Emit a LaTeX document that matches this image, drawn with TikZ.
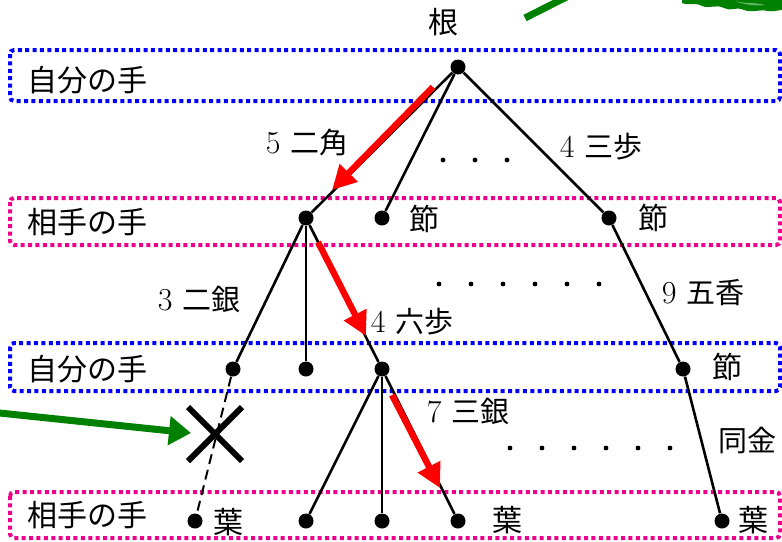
\documentclass[tikz,border=0pt]{standalone}
\usepackage{fontspec}
\newfontfamily\jp{Noto Sans CJK JP}
\usetikzlibrary{arrows.meta}

\definecolor{leaf}{RGB}{0,128,0}
\tikzset{
  node/.style={circle,fill,inner sep=0pt,minimum size=7.5pt},
  edge/.style={line width=1.3pt},
  box/.style={line width=2pt,dash pattern=on 2pt off 1.7pt,rounded corners=2pt},
  side/.style={font=\jp\fontsize{15}{15}\selectfont,anchor=west},
  tag/.style={font=\jp\fontsize{15}{15}\selectfont},
  move/.style={font=\fontsize{16}{16}\selectfont},
  path/.style={red,line width=3.2pt,-{Triangle[length=12pt,width=12pt]}},
  hint/.style={leaf,line width=3.5pt,-{Triangle[length=11pt,width=14pt]}},
}
\newcommand{\kj}[1]{{\jp\fontsize{14.5}{14.5}\selectfont #1}}

\begin{document}
\begin{tikzpicture}[x=0.5pt,y=-0.5pt]
  \useasboundingbox (0,0) rectangle (782,541);
  \clip (0,0) rectangle (782,541);

  % layers
  \draw[box,blue] (10,50) rectangle (780,101);
  \draw[box,magenta] (10,198) rectangle (780,245);
  \draw[box,blue] (10,343) rectangle (780,391);
  \draw[box,magenta] (10,492) rectangle (780,538);
  \node[side] (l1) at (20,80) {自分の手};
  \node[side] (l2) at (20,222) {相手の手};
  \node[side] (l3) at (20,369) {自分の手};
  \node[side] (l4) at (20,515) {相手の手};

  % tree
  \node[node] (r) at (458,67) {};
  \node[tag] (rt) at (443,22) {根};

  \node[node] (a) at (306,218) {};
  \node[node] (b) at (382,218) {};
  \node[node] (c) at (609,218) {};
  \node[tag] (bt) at (424,219) {節};
  \node[tag] (ct) at (653,218) {節};

  \node[node] (aa) at (233,369) {};
  \node[node] (ab) at (306,369) {};
  \node[node] (ac) at (382,369) {};
  \node[node] (ca) at (683,369) {};
  \node[tag] (cat) at (727,367) {節};

  \node[node] (aaa) at (195,521) {};
  \node[node] (aca) at (306,521) {};
  \node[node] (acb) at (382,521) {};
  \node[node] (acc) at (458,521) {};
  \node[node] (caa) at (722,521) {};
  \node[tag] (aaat) at (228,522) {葉};
  \node[tag] (acct) at (507,520) {葉};
  \node[tag] (caat) at (753,520) {葉};

  \draw[edge] (r) -- (a);
  \draw[edge] (r) -- (b);
  \draw[edge] (r) -- (c);
  \draw[edge] (a) -- (aa);
  \draw[edge] (a) -- (ab);
  \draw[edge] (a) -- (ac);
  \draw[edge] (c) -- (ca);
  \draw[edge] (ac) -- (aca);
  \draw[edge] (ac) -- (acb);
  \draw[edge] (ac) -- (acc);
  \draw[edge] (ca) -- (caa);
  \draw[edge,dash pattern=on 5pt off 3pt,line width=1pt] (aa) -- (aaa);

  % moves
  \node[move] (m1) at (307,143) {5 \kj{二角}};
  \node[move] (m2) at (601,147) {4 \kj{三歩}};
  \node[move] (m3) at (199,300) {3 \kj{二銀}};
  \node[move] (m4) at (412,322) {4 \kj{六歩}};
  \node[move] (m5) at (703,293) {9 \kj{五香}};
  \node[move] (m6) at (468,412) {7 \kj{三銀}};
  \node[move] (m7) at (747,440) {\kj{同金}};

  % omitted siblings
  \foreach \x in {443,475,507}
    \fill (\x,160) circle (2.4);
  \foreach \x in {439,471,...,599}
    \fill (\x,284) circle (2.4);
  \foreach \x in {510,542,...,670}
    \fill (\x,448) circle (2.4);

  % best line
  \coordinate (p0) at (433,87);
  \coordinate (p1) at (332,190);
  \coordinate (q0) at (318,242);
  \coordinate (q1) at (366,336);
  \coordinate (s0) at (392,395);
  \coordinate (s1) at (440,488);
  \draw[path] (p0) -- (p1);
  \draw[path] (q0) -- (q1);
  \draw[path] (s0) -- (s1);

  % pruned branch
  \coordinate (x) at (215,434);
  \draw[line width=3pt] (188,407) -- (242,461);
  \draw[line width=3pt] (188,461) -- (242,407);
  \coordinate (g0) at (-10,412);
  \coordinate (g1) at (191,433);
  \draw[hint] (g0) -- (g1);

  % pointer and leaves at the top
  \coordinate (t0) at (525,18);
  \coordinate (t1) at (600,-20);
  \draw[leaf,line width=3.5pt] (t0) -- (t1);
  \fill[leaf] (682,0) -- (682,3) .. controls (690,6) and (695,2) .. (702,6)
    .. controls (710,9) and (716,4) .. (724,8) .. controls (730,12) and (736,6) .. (744,10)
    .. controls (752,13) and (760,9) .. (768,11) .. controls (774,12) and (778,10) .. (782,10)
    -- (782,0) -- cycle;
  \fill[leaf!60!white] (735,1) .. controls (745,4) and (755,2) .. (765,5)
    .. controls (755,6) and (745,5) .. (735,1) -- cycle;
\end{tikzpicture}
\end{document}
